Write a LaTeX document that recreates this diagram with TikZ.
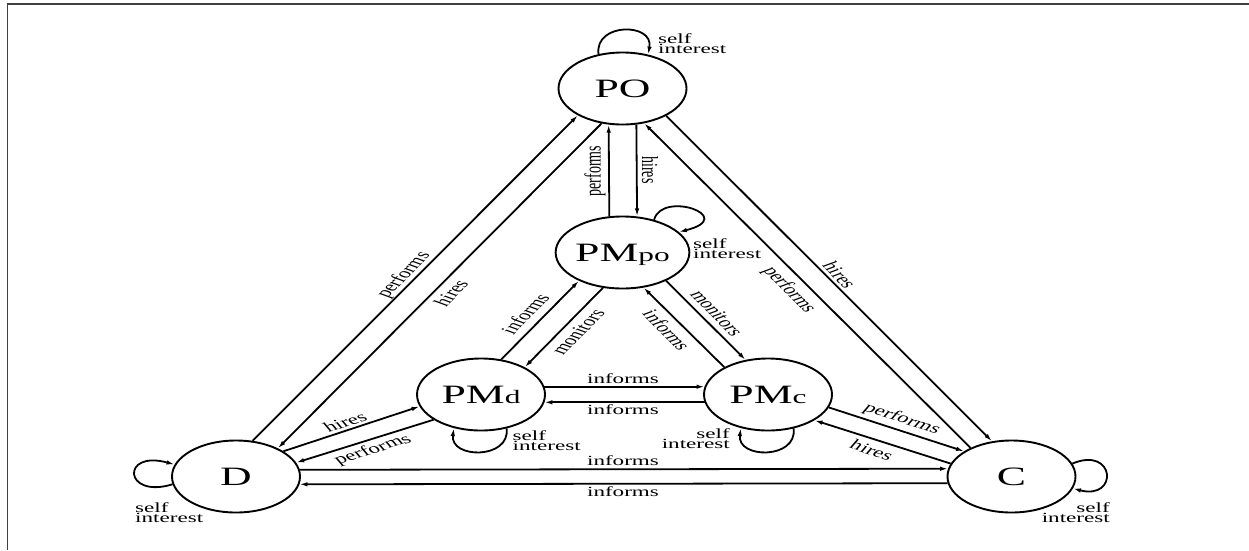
\documentclass[tikz,border=0pt]{standalone}
\usepackage{fontspec}
\setmainfont{Liberation Serif}
\usepackage{graphicx}
\usetikzlibrary{arrows.meta,shapes.geometric}
\newcommand\sx[1]{\scalebox{1.65}[1]{#1}}
\newcommand\rl[2]{\scalebox{1.65}[1]{\rotatebox{#1}{#2}}}
\newcommand\SIl{\sx{\vbox{\fontsize{14}{10}\selectfont\halign{##\hfil\cr self\cr interest\cr}}}}
\newcommand\SIr{\sx{\vbox{\fontsize{14}{10}\selectfont\halign{\hfil##\cr self\cr interest\cr}}}}
\newcommand\bigtxt[1]{\fontsize{26.5}{30}\selectfont #1}
\newcommand\subtxt[1]{\fontsize{19}{20}\selectfont #1}
\begin{document}
\begin{tikzpicture}[x=1pt,y=-1pt,>={Latex[length=8pt,width=4.5pt]},
  state/.style={draw,ellipse,line width=1.9pt,minimum width=128pt,minimum height=72pt,inner sep=0pt,text depth=0pt},
  edge/.style={line width=1.8pt,->},
  lbl/.style={inner sep=0pt,font=\fontsize{14}{16}\selectfont},
  si/.style={inner sep=0pt}]
\useasboundingbox (0,0) rectangle (1249,550);
\fill[white] (0,0) rectangle (1249,550);
\draw[line width=1.3pt,black!75] (1249,4) -- (7.5,4) -- (7.5,550);

% states
\node[state] (PO) at (622.5,88.5) {\sx{\bigtxt{PO}}};
\node[state] (PMpo) at (622.5,252.5) {\sx{\bigtxt{PM}\subtxt{po}}};
\node[state] (PMd) at (481,394.5) {\sx{\bigtxt{PM}\subtxt{d}}};
\node[state] (PMc) at (768,394.5) {\sx{\bigtxt{PM}\subtxt{c}}};
\node[state] (D) at (236,476.5) {\sx{\bigtxt{D}}};
\node[state] (C) at (1011.5,476.5) {\sx{\bigtxt{C}}};

% edges
\draw[edge] (PMpo.110.45) -- (PO.249.55);
\draw[edge] (PO.291.9) -- (PMpo.68.1);
\draw[edge] (D.65.5) -- (PO.211.2);
\draw[edge] (PO.239.6) -- (D.34.8);
\draw[edge] (C.145.9) -- (PO.302.6);
\draw[edge] (PO.328.1) -- (C.119.3);
\draw[edge] (PMd.60.7) -- (PMpo.213);
\draw[edge] (PMpo.241.3) -- (PMd.32.7);
\draw[edge] (PMc.148.8) -- (PMpo.301);
\draw[edge] (PMpo.327) -- (PMc.123.7);
\draw[edge] (PMd.7) -- (PMc.173);
\draw[edge] (PMc.187) -- (PMd.353);
\draw[edge] (D.6.7) -- (C.173.3);
\draw[edge] (C.186.7) -- (D.353.3);
\draw[edge] (D.28.9) -- (PMd.191.5);
\draw[edge] (PMd.208.1) -- (D.13.4);
\draw[edge] (PMc.348.3) -- (C.152);
\draw[edge] (C.168.2) -- (PMc.331.5);

% self loops
\draw[edge] (PO.125) .. controls +(-4,-32) and +(6,-32) .. (PO.53);
\draw[edge] (PMpo.46.6) .. controls +(8,-30) and +(60,-15) .. (PMpo.20);
\draw[edge] (PMd.307.5) .. controls +(4,31) and +(-4,31) .. (PMd.231.3);
\draw[edge] (PMc.307.5) .. controls +(4,31) and +(-4,31) .. (PMc.231.3);
\draw[edge] (D.187.5) .. controls +(-49,15) and +(-54,-15) .. (D.169.3);
\draw[edge] (C.12.8) .. controls +(43,-18) and +(46,12) .. (C.349.7);

% self interest labels
\node[si,anchor=north west] (siPO) at (658,33) {\SIl};
\node[si,anchor=north west] (siPMpo) at (693,238) {\SIl};
\node[si,anchor=north west] (siPMd) at (512.5,430) {\SIl};
\node[si,anchor=north east] (siPMc) at (730,428) {\SIr};
\node[si,anchor=north west] (siD) at (135,502) {\SIl};
\node[si,anchor=north east] (siC) at (1110,502) {\SIr};

% edge labels
\node[lbl] (l1) at (595,171) {\rl{90}{performs}};
\node[lbl] (l2) at (650,170) {\rl{-90}{hires}};
\node[lbl] (l3) at (404,275) {\rl{58.8}{performs}};
\node[lbl] (l4) at (451,293) {\rl{58.8}{hires}};
\node[lbl] (l5) at (789,290) {\rl{-58.8}{performs}};
\node[lbl] (l6) at (840,275) {\rl{-58.8}{hires}};
\node[lbl] (l7) at (525,314) {\rl{58.8}{informs}};
\node[lbl] (l8) at (578,332) {\rl{58.8}{monitors}};
\node[lbl] (l9) at (667,330) {\rl{-58.8}{informs}};
\node[lbl] (l10) at (717,313) {\rl{-58.8}{monitors}};
\node[lbl] (l11) at (623,379) {\sx{informs}};
\node[lbl] (l12) at (623,410) {\sx{informs}};
\node[lbl] (l13) at (623,461) {\sx{informs}};
\node[lbl] (l14) at (623,492) {\sx{informs}};
\node[lbl] (l15) at (345,422) {\rl{27.2}{hires}};
\node[lbl] (l16) at (373,450) {\rl{27.2}{performs}};
\node[lbl] (l17) at (902,419) {\rl{-27.5}{performs}};
\node[lbl] (l18) at (872,450) {\rl{-27.5}{hires}};
\end{tikzpicture}
\end{document}
